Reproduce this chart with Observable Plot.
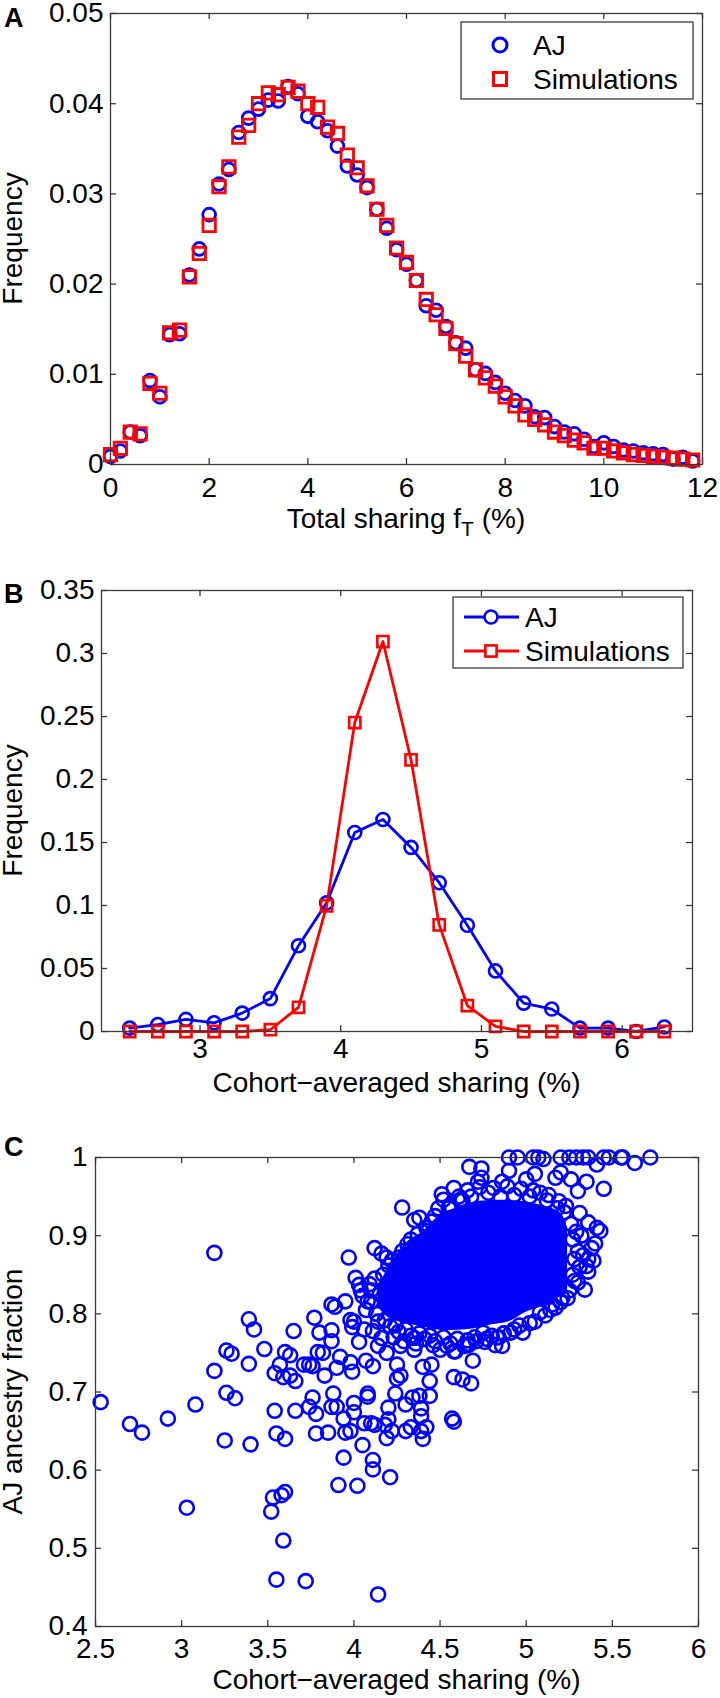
<!DOCTYPE html>
<html><head><meta charset="utf-8">
<script src="https://cdn.jsdelivr.net/npm/d3@7"></script>
<script src="https://cdn.jsdelivr.net/npm/@observablehq/plot@0.6"></script>
<style>
body{margin:0;background:#fff;}
#wrap{position:relative;width:720px;height:1698px;font-family:"Liberation Sans",Arial,sans-serif;background:#fff;}
#wrap svg{position:absolute;left:0;}
</style></head><body><div id="wrap"></div>
<script>
// ---------- Panel A data ----------
const sharingA = [0,0.2,0.4,0.6,0.8,1.0,1.2,1.4,1.6,1.8,2.0,2.2,2.4,2.6,2.8,3.0,3.2,3.4,3.6,3.8,4.0,4.2,4.4,4.6,4.8,5.0,5.2,5.4,5.6,5.8,6.0,6.2,6.4,6.6,6.8,7.0,7.2,7.4,7.6,7.8,8.0,8.2,8.4,8.6,8.8,9.0,9.2,9.4,9.6,9.8,10.0,10.2,10.4,10.6,10.8,11.0,11.2,11.4,11.6,11.8];
const ajFreqA = [0.0009,0.0015,0.0036,0.0032,0.0093,0.0075,0.0144,0.0145,0.0210,0.0239,0.0277,0.0311,0.0327,0.0368,0.0384,0.0394,0.0404,0.0403,0.0419,0.0411,0.0386,0.0380,0.0370,0.0353,0.0331,0.0321,0.0307,0.0283,0.0262,0.0238,0.0222,0.0204,0.0176,0.0171,0.0153,0.0135,0.0129,0.0105,0.0101,0.0091,0.0079,0.0071,0.0065,0.0053,0.0052,0.0042,0.0036,0.0034,0.0028,0.0020,0.0024,0.0020,0.0016,0.0015,0.0013,0.0012,0.0011,0.0006,0.0008,0.0004];
const simFreqA = [0.0011,0.0018,0.0036,0.0034,0.0090,0.0079,0.0146,0.0149,0.0208,0.0234,0.0265,0.0308,0.0330,0.0363,0.0376,0.0400,0.0412,0.0410,0.0418,0.0414,0.0400,0.0396,0.0374,0.0367,0.0343,0.0329,0.0309,0.0283,0.0265,0.0240,0.0224,0.0204,0.0183,0.0166,0.0151,0.0134,0.0120,0.0105,0.0096,0.0087,0.0075,0.0065,0.0055,0.0050,0.0044,0.0036,0.0032,0.0027,0.0024,0.0018,0.0018,0.0015,0.0013,0.0011,0.0010,0.0009,0.0008,0.0007,0.0006,0.0005];
const xTicksA = [0,2,4,6,8,10,12];
const yTicksA = [0,0.01,0.02,0.03,0.04,0.05];

// ---------- Panel B data ----------
const sharingB = [2.5,2.7,2.9,3.1,3.3,3.5,3.7,3.9,4.1,4.3,4.5,4.7,4.9,5.1,5.3,5.5,5.7,5.9,6.1,6.3];
const ajFreqB  = [0.0027,0.0055,0.0096,0.0069,0.0146,0.0261,0.0681,0.1021,0.1579,0.1683,0.1461,0.1181,0.0843,0.0481,0.0225,0.0178,0.0027,0.0027,0.0,0.0036];
const simFreqB = [0,0,0,0,0,0.0014,0.0192,0.0997,0.2452,0.3095,0.2156,0.0846,0.0206,0.0041,0,0,0,0,0,0];
const xTicksB = [3,4,5,6];
const yTicksB = [0,0.05,0.1,0.15,0.2,0.25,0.3,0.35];

// ---------- Panel C data ----------
const cohortSharingC = [2.53,2.70,2.77,2.92,3.08,3.03,3.19,3.19,3.26,3.31,3.26,3.29,3.25,3.39,3.42,3.39,3.48,3.40,3.54,3.54,3.55,3.60,3.60,3.63,3.59,3.63,3.66,3.57,3.65,3.52,3.53,3.58,3.60,3.59,3.55,3.72,4.14,3.66,3.71,3.74,3.76,3.76,3.74,3.78,3.78,3.85,3.77,3.80,3.79,3.82,3.83,3.88,3.87,3.87,3.87,3.87,3.89,3.90,3.92,3.90,3.94,3.95,3.98,3.94,3.91,4.02,3.97,3.95,3.98,3.99,4.00,3.98,3.99,4.00,4.00,4.03,4.06,4.05,4.01,4.03,4.07,4.11,4.08,4.08,4.06,4.10,4.12,4.11,4.11,4.21,4.18,4.20,4.20,4.19,4.22,4.24,4.25,4.25,4.27,4.30,4.30,4.33,4.34,4.38,4.39,4.39,4.39,4.40,4.42,4.44,4.40,4.44,4.45,4.57,4.58,4.58,4.63,4.68,4.69,4.58,4.64,4.67,4.46,4.28,4.35,4.38,4.43,4.51,4.52,4.58,4.62,4.67,4.74,4.74,4.72,4.86,4.90,4.95,5.04,5.07,5.10,5.20,5.25,5.29,5.33,5.36,5.41,5.45,5.48,5.55,5.56,5.63,5.72,5.45,5.35,5.30,5.26,5.20,5.17,5.05,5.00,4.90,5.31,5.36,5.41,5.43,5.38,5.36,5.35,5.36,5.34,5.28,5.08,4.98,4.91,4.86,4.82,4.75,4.66,4.59,4.50,4.35,4.27,4.35,4.19,4.14,4.16,4.11,4.08,4.04,4.12,4.16,4.19,
4.25,4.28,4.33,4.42,4.47,4.55,4.63,4.68,4.78,4.85,4.93,5.02,5.08,5.12,5.18,5.22,5.26,5.27,5.28,5.27,5.25,5.20,5.14,5.05,4.96,4.87,4.80,4.70,4.60,4.52,4.44,4.38,4.30,4.24,4.18,4.13,4.10,4.10,4.12,4.17,4.20,
4.15,4.22,4.26,4.31,4.37,4.45,4.49,4.56,4.61,4.66,4.73,4.81,4.89,4.97,5.04,5.13,5.19,5.23,5.29,5.30,5.31,5.30,5.24,5.17,5.11,5.02,4.93,4.84,4.76,4.66,4.56,4.47,4.41,4.33,4.26,4.21,4.14,4.07,4.05,4.09,4.23,4.29,4.36,4.46,4.54,4.71,4.77,4.83,5.15,5.21,5.32,5.33,5.40,5.39];
const ancestryC = [0.687,0.659,0.648,0.666,0.684,0.552,0.878,0.727,0.699,0.692,0.753,0.749,0.638,0.793,0.780,0.736,0.755,0.633,0.724,0.676,0.647,0.640,0.751,0.747,0.719,0.721,0.714,0.735,0.778,0.547,0.565,0.568,0.572,0.510,0.460,0.458,0.441,0.676,0.735,0.735,0.733,0.693,0.681,0.672,0.647,0.648,0.795,0.776,0.751,0.750,0.721,0.698,0.681,0.765,0.779,0.812,0.809,0.731,0.745,0.681,0.666,0.648,0.650,0.616,0.581,0.580,0.872,0.816,0.792,0.783,0.790,0.738,0.726,0.686,0.674,0.764,0.780,0.632,0.846,0.837,0.740,0.733,0.698,0.694,0.660,0.660,0.658,0.613,0.601,0.591,0.658,0.665,0.680,0.641,0.650,0.698,0.717,0.735,0.721,0.684,0.650,0.655,0.693,0.695,0.679,0.669,0.650,0.640,0.655,0.695,0.732,0.714,0.735,0.666,0.662,0.719,0.716,0.711,0.740,0.752,0.759,0.761,0.790,0.936,0.920,0.923,0.906,0.953,0.946,0.961,0.946,0.988,0.986,0.974,0.969,0.969,1.0,1.0,1.0,1.0,0.998,1.0,1.0,1.0,1.0,1.0,0.991,1.0,1.0,1.0,1.0,0.993,1.0,0.960,0.969,0.957,0.972,0.981,0.974,0.979,0.972,0.983,0.929,0.917,0.910,0.906,0.884,0.870,0.861,0.854,0.831,0.842,0.802,0.776,0.776,0.759,0.760,0.776,0.766,0.752,0.754,0.754,0.759,0.769,0.750,0.759,0.769,0.778,0.816,0.830,0.884,0.877,0.872,
0.860,0.880,0.895,0.910,0.925,0.935,0.945,0.950,0.955,0.950,0.952,0.950,0.955,0.945,0.935,0.930,0.915,0.895,0.870,0.850,0.830,0.815,0.805,0.790,0.785,0.775,0.772,0.770,0.768,0.770,0.772,0.775,0.780,0.785,0.792,0.800,0.815,0.830,0.845,0.850,0.862,
0.825,0.868,0.872,0.889,0.902,0.918,0.935,0.938,0.950,0.958,0.962,0.961,0.963,0.960,0.958,0.952,0.944,0.938,0.905,0.880,0.860,0.840,0.820,0.808,0.798,0.788,0.780,0.770,0.764,0.760,0.762,0.765,0.768,0.772,0.777,0.784,0.790,0.805,0.823,0.838,0.770,0.765,0.762,0.760,0.759,0.765,0.768,0.770,0.812,0.820,0.900,0.875,0.890,0.868];
// dense, fully overlapping core of the cloud (solid ink region)
const coreSharing = [4.14,4.20,4.30,4.40,4.50,4.60,4.70,4.80,4.90,5.00,5.10,5.20,5.24];
const coreLow     = [0.810,0.795,0.788,0.783,0.779,0.779,0.781,0.786,0.790,0.802,0.810,0.823,0.830];
const coreHigh    = [0.835,0.858,0.890,0.905,0.926,0.936,0.943,0.945,0.945,0.943,0.938,0.929,0.910];
const xTicksC = [2.5,3,3.5,4,4.5,5,5.5,6];
const yTicksC = [0.4,0.5,0.6,0.7,0.8,0.9,1];

// ---------- helpers ----------
const BLUE = "#0000ff", RED = "#ff0000", FRAME = "#3a3a3a";
const FONT = "'Liberation Sans', Arial, Helvetica, sans-serif";
const TICKFS = 28, LABFS = 28;
const wrap = document.getElementById("wrap");

function framedTicks(xt, yt, plotW, plotH) {
  const L = 6;
  return [
    Plot.tickX(xt, {x: d => d, stroke: FRAME, strokeWidth: 1.3, insetTop: plotH - L}),
    Plot.tickX(xt, {x: d => d, stroke: FRAME, strokeWidth: 1.3, insetBottom: plotH - L}),
    Plot.tickY(yt, {y: d => d, stroke: FRAME, strokeWidth: 1.3, insetRight: plotW - L}),
    Plot.tickY(yt, {y: d => d, stroke: FRAME, strokeWidth: 1.3, insetLeft: plotW - L})
  ];
}

function panel(cfg) {
  const plotW = cfg.width - cfg.ml - cfg.mr;
  const plotH = cfg.height - cfg.mt - cfg.mb;
  const svg = Plot.plot({
    width: cfg.width, height: cfg.height,
    marginTop: cfg.mt, marginBottom: cfg.mb, marginLeft: cfg.ml, marginRight: cfg.mr,
    x: {domain: cfg.xdomain},
    y: {domain: cfg.ydomain},
    style: {fontFamily: FONT, color: "black", background: "transparent", overflow: "visible"},
    marks: [
      ...cfg.marks,
      Plot.frame({stroke: FRAME, strokeWidth: 1.3}),
      ...framedTicks(cfg.xticks, cfg.yticks, plotW, plotH),
      Plot.axisX(cfg.xticks, {tickSize: 0, tickPadding: cfg.xpad, fontSize: TICKFS, tickFormat: d => String(d), label: null}),
      Plot.axisY(cfg.yticks, {tickSize: 0, tickPadding: cfg.ypad, fontSize: TICKFS, tickFormat: d => String(d), label: null})
    ]
  });
  svg.style.top = cfg.top + "px";
  wrap.appendChild(svg);
  const s = d3.select(svg);
  // panel letter
  s.append("text").attr("x", 4).attr("y", cfg.letterY).attr("text-anchor", "start").attr("font-family", FONT)
    .attr("font-weight", "bold").attr("font-size", 27).attr("fill", "black").text(cfg.letter);
  // y label
  s.append("text").attr("transform", `translate(22,${cfg.mt + plotH / 2}) rotate(-90)`)
    .attr("text-anchor", "middle").attr("font-family", FONT).attr("font-size", LABFS)
    .attr("fill", "black").text(cfg.ylabel);
  // x label
  const xl = s.append("text").attr("x", cfg.ml + plotW / 2).attr("y", cfg.xlabelY)
    .attr("text-anchor", "middle").attr("font-family", FONT).attr("font-size", LABFS).attr("fill", "black");
  cfg.xlabel(xl);
  return s;
}

function legend(s, box, rows) {
  s.append("rect").attr("x", box.x).attr("y", box.y).attr("width", box.w).attr("height", box.h)
    .attr("fill", "white").attr("stroke", FRAME).attr("stroke-width", 1.3);
  rows.forEach(r => {
    if (r.line) s.append("line").attr("x1", r.lx1).attr("x2", r.lx2).attr("y1", r.y).attr("y2", r.y)
      .attr("stroke", r.color).attr("stroke-width", 2.8);
    if (r.symbol === "circle") s.append("circle").attr("cx", r.mx).attr("cy", r.y).attr("r", r.r)
      .attr("fill", r.line ? "white" : "none").attr("stroke", r.color).attr("stroke-width", r.sw);
    else s.append("rect").attr("x", r.mx - r.r).attr("y", r.y - r.r).attr("width", 2 * r.r).attr("height", 2 * r.r)
      .attr("fill", r.line ? "white" : "none").attr("stroke", r.color).attr("stroke-width", r.sw);
    s.append("text").attr("x", r.tx).attr("y", r.y + 10).attr("text-anchor", "start").attr("font-family", FONT)
      .attr("font-size", LABFS).attr("fill", "black").text(r.label);
  });
}

// ---------- Panel A ----------
const dataA = sharingA.map((x, i) => ({x, aj: ajFreqA[i], sim: simFreqA[i]}));
const sA = panel({
  top: 0, width: 720, height: 550, mt: 13, mb: 86, ml: 110, mr: 18,
  xdomain: [0, 12], ydomain: [0, 0.05], xticks: xTicksA, yticks: yTicksA,
  xpad: 13, ypad: 7, letter: "A", letterY: 27, ylabel: "Frequency", xlabelY: 528,
  xlabel: t => { t.append("tspan").text("Total sharing f");
                 t.append("tspan").attr("dy", 8).attr("font-size", 21).text("T");
                 t.append("tspan").attr("dy", -8).text(" (%)"); },
  marks: [
    Plot.dot(dataA, {x: "x", y: "aj", r: 6.4, stroke: BLUE, strokeWidth: 2.8, fill: "none"}),
    Plot.dot(dataA, {x: "x", y: "sim", symbol: "square", r: 7, stroke: RED, strokeWidth: 2.8, fill: "none"})
  ]
});
legend(sA, {x: 461, y: 22, w: 232, h: 77}, [
  {symbol: "circle", mx: 500, y: 45, r: 7, sw: 3, color: BLUE, tx: 533, label: "AJ"},
  {symbol: "square", mx: 500, y: 79, r: 6.5, sw: 3, color: RED, tx: 533, label: "Simulations"}
]);

// ---------- Panel B ----------
const dataB = sharingB.map((x, i) => ({x, aj: ajFreqB[i], sim: simFreqB[i]}));
const sB = panel({
  top: 550, width: 720, height: 560, mt: 40, mb: 79, ml: 101, mr: 28,
  xdomain: [2.3, 6.5], ydomain: [0, 0.35], xticks: xTicksB, yticks: yTicksB,
  xpad: 7, ypad: 7, letter: "B", letterY: 53, ylabel: "Frequency", xlabelY: 542,
  xlabel: t => t.text("Cohort\u2212averaged sharing (%)"),
  marks: [
    Plot.line(dataB, {x: "x", y: "aj", stroke: BLUE, strokeWidth: 2.8}),
    Plot.dot(dataB, {x: "x", y: "aj", r: 6.5, stroke: BLUE, strokeWidth: 2.6, fill: "none"}),
    Plot.line(dataB, {x: "x", y: "sim", stroke: RED, strokeWidth: 2.8}),
    Plot.dot(dataB, {x: "x", y: "sim", symbol: "square", r: 6.3, stroke: RED, strokeWidth: 2.6, fill: "none"})
  ]
});
legend(sB, {x: 453, y: 47, w: 230, h: 71}, [
  {symbol: "circle", line: true, lx1: 464, lx2: 519, mx: 491, y: 67, r: 6.5, sw: 2.6, color: BLUE, tx: 525, label: "AJ"},
  {symbol: "square", line: true, lx1: 464, lx2: 519, mx: 491, y: 101, r: 5.6, sw: 2.6, color: RED, tx: 525, label: "Simulations"}
]);

// ---------- Panel C ----------
const dataC = cohortSharingC.map((x, i) => ({x, y: ancestryC[i]}));
const coreC = coreSharing.map((x, i) => ({x, lo: coreLow[i], hi: coreHigh[i]}));
panel({
  top: 1110, width: 720, height: 588, mt: 47, mb: 72, ml: 95, mr: 22,
  xdomain: [2.5, 6], ydomain: [0.4, 1], xticks: xTicksC, yticks: yTicksC,
  xpad: 12, ypad: 8, letter: "C", letterY: 46, ylabel: "AJ ancestry fraction", xlabelY: 579,
  xlabel: t => t.text("Cohort\u2212averaged sharing (%)"),
  marks: [
    Plot.areaY(coreC, {x: "x", y1: "lo", y2: "hi", fill: BLUE, curve: "catmull-rom"}),
    Plot.dot(dataC, {x: "x", y: "y", r: 7, stroke: BLUE, strokeWidth: 2.6, fill: "none"})
  ]
});
</script></body></html>
